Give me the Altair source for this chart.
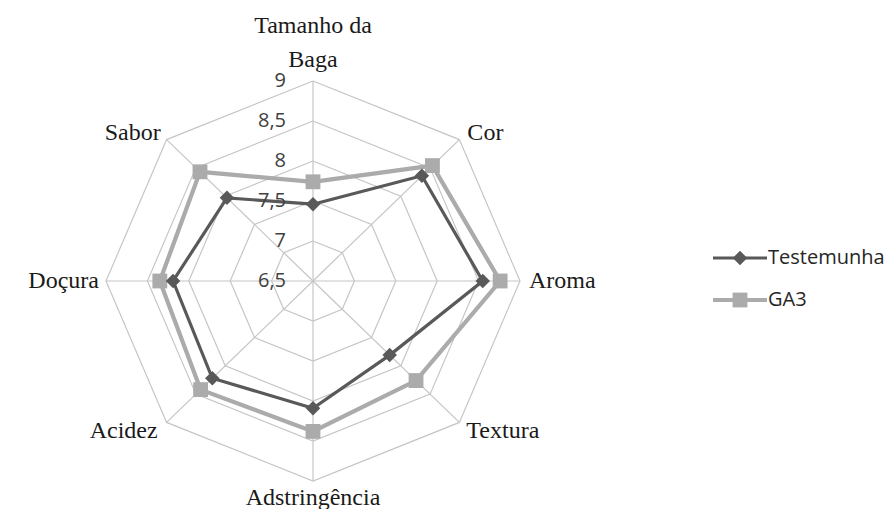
import math
import altair as alt
import pandas as pd

# ---------------- data ----------------
categories = ["Tamanho da Baga", "Cor", "Aroma", "Textura",
              "Adstringência", "Acidez", "Doçura", "Sabor"]
testemunha = [7.46, 8.36, 8.55, 7.81, 8.09, 8.22, 8.19, 7.97]
ga3 = [7.74, 8.54, 8.76, 8.26, 8.38, 8.42, 8.35, 8.43]
series_names = ["Testemunha", "GA3"]
tick_values = [6.5, 7, 7.5, 8, 8.5, 9]
tick_labels = ["6,5", "7", "7,5", "8", "8,5", "9"]

# ---------------- geometry ----------------
VMIN, VMAX = 6.5, 9.0
W, H = 878, 501
CX, CY = 305, 273          # centre in plot pixels
RX, RY = 207, 200          # outer ring radius in pixels (x / y)
xdom = [-CX / RX, (W - CX) / RX]
ydom = [-(H - CY) / RY, CY / RY]
n = len(categories)


def pos(value, i):
    r = (value - VMIN) / (VMAX - VMIN)
    a = 2 * math.pi * i / n
    return r * math.sin(a), r * math.cos(a)


xs = alt.Scale(domain=xdom, nice=False, zero=False)
ys = alt.Scale(domain=ydom, nice=False, zero=False)

# grid rings
ring_rows = []
for v in tick_values[1:]:
    for k in range(n + 1):
        x, y = pos(v, k % n)
        ring_rows.append({"ring": v, "k": k, "x": x, "y": y})
rings = alt.Chart(pd.DataFrame(ring_rows)).mark_line(
    color="#c6c6c6", strokeWidth=1.2
).encode(
    x=alt.X("x:Q", scale=xs, axis=None),
    y=alt.Y("y:Q", scale=ys, axis=None),
    detail="ring:N",
    order="k:Q",
)

# spokes
spoke_rows = []
for i in range(n):
    x, y = pos(VMAX, i)
    spoke_rows.append({"x": 0.0, "y": 0.0, "x2": x, "y2": y})
spokes = alt.Chart(pd.DataFrame(spoke_rows)).mark_rule(
    color="#c6c6c6", strokeWidth=1.2
).encode(
    x=alt.X("x:Q", scale=xs, axis=None),
    y=alt.Y("y:Q", scale=ys, axis=None),
    x2="x2:Q",
    y2="y2:Q",
)

# tick labels
tick_rows = []
for v, lab in zip(tick_values, tick_labels):
    x, y = pos(v, 0)
    tick_rows.append({"x": x, "y": y, "label": lab})
ticks = alt.Chart(pd.DataFrame(tick_rows)).mark_text(
    align="right", baseline="middle", dx=-27, fontSize=20,
    font="Open Sans", color="#404040"
).encode(
    x=alt.X("x:Q", scale=xs, axis=None),
    y=alt.Y("y:Q", scale=ys, axis=None),
    text="label:N",
)

# series
colors = {"Testemunha": "#595959", "GA3": "#ababab"}
shapes = {"Testemunha": "diamond", "GA3": "square"}
sizes = {"Testemunha": 210, "GA3": 220}
widths = {"Testemunha": 3.2, "GA3": 4.2}

series_layers = []
for name, vals in [("GA3", ga3), ("Testemunha", testemunha)]:
    rows = []
    for k in range(n + 1):
        x, y = pos(vals[k % n], k % n)
        rows.append({"serie": name, "k": k, "x": x, "y": y})
    df = pd.DataFrame(rows)
    line = alt.Chart(df).mark_line(
        color=colors[name], strokeWidth=widths[name]
    ).encode(
        x=alt.X("x:Q", scale=xs, axis=None),
        y=alt.Y("y:Q", scale=ys, axis=None),
        order="k:Q",
    )
    pts = alt.Chart(df[df.k < n]).mark_point(
        shape=shapes[name], filled=True, opacity=1,
        color=colors[name], size=sizes[name]
    ).encode(
        x=alt.X("x:Q", scale=xs, axis=None),
        y=alt.Y("y:Q", scale=ys, axis=None),
    )
    series_layers += [line, pts]

# category labels
label_style = {
    "Tamanho da Baga": dict(text="Tamanho da\nBaga", align="center", baseline="alphabetic", dx=0, dy=-48),
    "Cor": dict(text="Cor", align="left", baseline="middle", dx=8, dy=-7),
    "Aroma": dict(text="Aroma", align="left", baseline="middle", dx=9, dy=0),
    "Textura": dict(text="Textura", align="left", baseline="middle", dx=7, dy=9),
    "Adstringência": dict(text="Adstringência", align="center", baseline="alphabetic", dx=0, dy=24),
    "Acidez": dict(text="Acidez", align="right", baseline="middle", dx=-9, dy=9),
    "Doçura": dict(text="Doçura", align="right", baseline="middle", dx=-7, dy=0),
    "Sabor": dict(text="Sabor", align="right", baseline="middle", dx=-6, dy=-7),
}
label_layers = []
for i, cat in enumerate(categories):
    st = label_style[cat]
    x, y = pos(VMAX, i)
    label_layers.append(
        alt.Chart(pd.DataFrame([{"x": x, "y": y, "label": st["text"]}])).mark_text(
            align=st["align"], baseline=st["baseline"], dx=st["dx"], dy=st["dy"],
            fontSize=24, font="Liberation Serif", color="#1a1a1a",
            lineBreak="\n", lineHeight=34
        ).encode(
            x=alt.X("x:Q", scale=xs, axis=None),
            y=alt.Y("y:Q", scale=ys, axis=None),
            text="label:N",
        )
    )

# legend (drawn manually, to show line + marker)
legend_layers = []
legend_y = {"Testemunha": 250, "GA3": 292}
dummy = alt.Data(values=[{}])
for name in series_names:
    ly = legend_y[name]
    legend_layers.append(alt.Chart(dummy).mark_rule(
        color=colors[name], strokeWidth=widths[name]
    ).encode(x=alt.value(705), x2=alt.value(759), y=alt.value(ly)))
    legend_layers.append(alt.Chart(dummy).mark_point(
        shape=shapes[name], filled=True, opacity=1,
        color=colors[name], size=sizes[name]
    ).encode(x=alt.value(732), y=alt.value(ly)))
    legend_layers.append(alt.Chart(dummy).mark_text(
        align="left", baseline="middle", fontSize=20, font="Open Sans",
        color="#262626"
    ).encode(x=alt.value(760), y=alt.value(ly), text=alt.value(name)))

chart = alt.layer(
    rings, spokes, *series_layers, ticks, *label_layers, *legend_layers
).properties(
    width=W, height=H, padding=0, autosize="none"
).configure_view(stroke=None)

chart.save("out.html", embed_options={"renderer": "svg", "actions": False})
